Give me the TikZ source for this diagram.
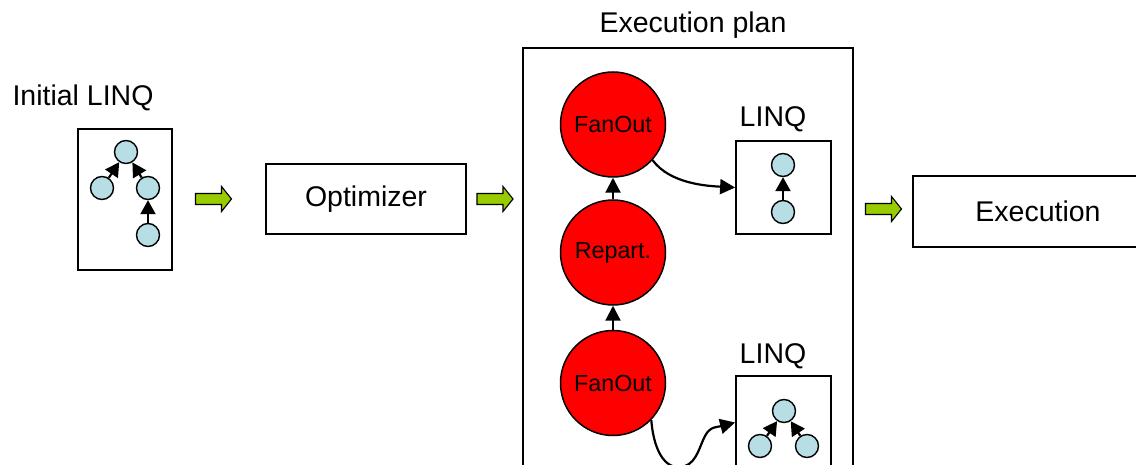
\documentclass[tikz,border=0pt]{standalone}
\usepackage{fontspec}
\setmainfont{Liberation Sans}
\usetikzlibrary{arrows.meta}
\definecolor{nodeblue}{RGB}{183,222,228}
\definecolor{opgreen}{RGB}{153,204,0}
\begin{document}
\begin{tikzpicture}[x=1pt,y=-1pt,
  box/.style={draw,line width=1.8pt,inner sep=0pt},
  leaf/.style={circle,draw,line width=1.4pt,fill=nodeblue,minimum size=23pt,inner sep=0pt},
  stage/.style={circle,draw,line width=1.5pt,fill=red,minimum size=105pt,inner sep=0pt,
    font=\fontsize{23.3}{27}\selectfont},
  big/.style={font=\fontsize{28.5}{34}\selectfont},
  small/.style={-{Triangle[length=14pt,width=15pt]},line width=2.2pt},
  link/.style={-{Triangle[length=15pt,width=15pt]},line width=2.2pt},
  flow/.style={draw=black,line width=1.1pt,fill=opgreen,line join=miter},
  flowarrow/.pic={\draw[flow] (-18,-5.5) -- (8,-5.5) -- (8,-12.5) -- (18,0)
    -- (8,12.5) -- (8,5.5) -- (-18,5.5) -- cycle;}
]
\useasboundingbox (0,0) rectangle (1136,465);
\clip (0,0) rectangle (1136,465);

% initial query tree
\node[big,anchor=base] (initlabel) at (83,106) {Initial LINQ};
\node[box,minimum width=94,minimum height=141] (init) at (125,199.5) {};
\node[leaf] (i1) at (126,152) {};
\node[leaf] (i2) at (102,188) {};
\node[leaf] (i3) at (148,188) {};
\node[leaf] (i4) at (148,235) {};
\draw[small] (i2) -- (i1);
\draw[small] (i3) -- (i1);
\draw[small] (i4) -- (i3);

\pic (g1) at (213.5,199) {flowarrow};

% optimizer
\node[box,big,minimum width=200,minimum height=70] (opt) at (366,199) {Optimizer};

\pic (g2) at (495,199) {flowarrow};

% execution plan
\node[big,anchor=base] (planlabel) at (693,33) {Execution plan};
\node[box,minimum width=330,minimum height=472] (plan) at (688,284) {};

\node[stage] (fo1) at (613,124.5) {FanOut};
\node[stage] (rp) at (613,252.5) {Repart.};
\node[stage] (fo2) at (613,383) {FanOut};
\draw[link] (rp) -- (fo1);
\draw[link] (fo2) -- (rp);

% first sub-query
\node[big,anchor=base] (lq1label) at (773,127) {LINQ};
\node[box,minimum width=95,minimum height=93] (lq1) at (783.5,187.5) {};
\node[leaf] (a1) at (783,165) {};
\node[leaf] (a2) at (783,212) {};
\draw[small] (a2) -- (a1);
\draw[link] (fo1.-42) .. controls (670,184) and (708,186) .. (lq1.west);

% second sub-query
\node[big,anchor=base] (lq2label) at (773,363) {LINQ};
\node[box,minimum width=95,minimum height=93] (lq2) at (783.5,422.5) {};
\node[leaf] (b1) at (784,411) {};
\node[leaf] (b2) at (760,446) {};
\node[leaf] (b3) at (807,446) {};
\draw[small] (b2) -- (b1);
\draw[small] (b3) -- (b1);
\coordinate (dip) at (685,466);
\coordinate (rise) at (705,436);
\draw[link] (fo2.-44) .. controls (654,455) and (668,472) .. (dip)
  .. controls (697,462) and (700,445) .. (rise)
  .. controls (710,426) and (718,427) .. (lq2.west);

\pic (g3) at (883.5,209) {flowarrow};

% execution
\node[box,big,minimum width=250,minimum height=71] (exec) at (1038,211.5) {Execution};
\end{tikzpicture}
\end{document}
